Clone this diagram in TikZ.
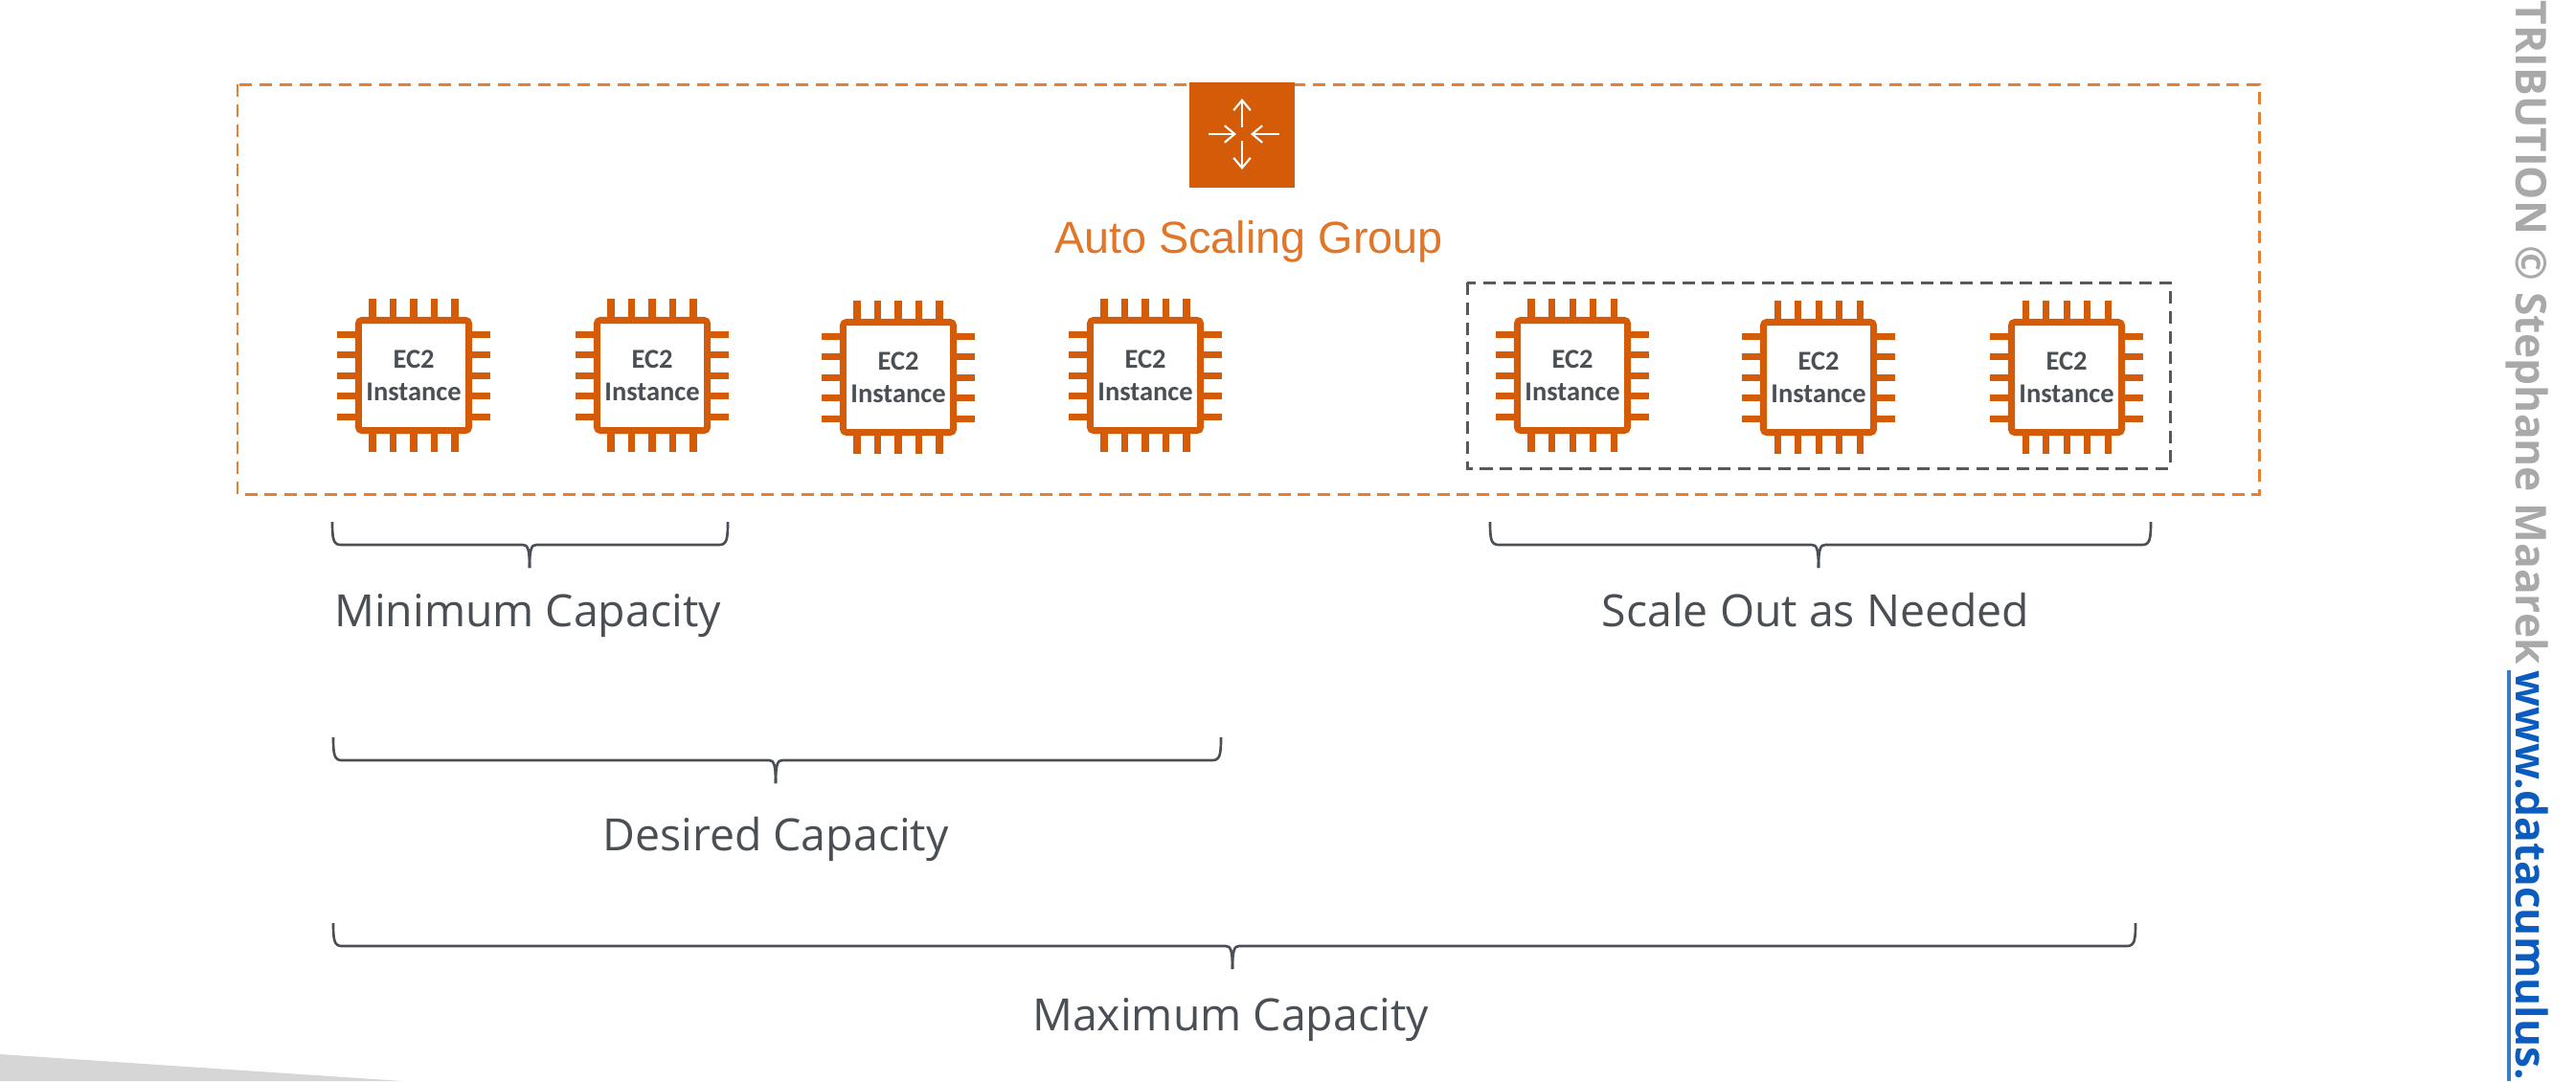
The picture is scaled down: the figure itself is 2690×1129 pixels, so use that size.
\documentclass[tikz,border=0pt]{standalone}
\usepackage{fontspec}
\setmainfont{Open Sans}
\newfontfamily\chipfont{Carlito}
\newfontfamily\groupfont{Liberation Sans}
\usetikzlibrary{positioning,arrows.meta}
\definecolor{awsorange}{HTML}{D45B07}
\definecolor{dashorange}{HTML}{E67E33}
\definecolor{textgray}{HTML}{4A4F55}
\definecolor{sidegray}{HTML}{A9A9A9}
\definecolor{linkblue}{HTML}{0B5CBE}
\tikzset{
  chip/.style={draw=awsorange,line width=2pt,rounded corners=1pt,minimum size=1.15cm,inner sep=0pt,
    align=center,text=textgray,font=\chipfont\bfseries\fontsize{8.1}{9.7}\selectfont},
  pin/.style={draw=awsorange,line width=2pt},
  caplabel/.style={text=textgray,font=\fontsize{13.2}{16}\selectfont,inner sep=0pt,anchor=base},
  capbrace/.style={draw=textgray,line width=0.75pt},
  sidetext/.style={rotate=-90,anchor=base west,inner sep=0pt,font=\bfseries\fontsize{12.6}{16}\selectfont}
}
% bracket: left end, right end, tip x, height of the bar
\newcommand{\capbracket}[4]{
  \draw[capbrace] (#1,#4-24) .. controls (#1,#4-6) and (#1+1,#4) .. (#1+9,#4)
    -- (#3-7,#4) .. controls (#3-2,#4) and (#3,#4+4) .. (#3,#4+24);
  \draw[capbrace] (#2,#4-24) .. controls (#2,#4-6) and (#2-1,#4) .. (#2-9,#4)
    -- (#3+7,#4) .. controls (#3+2,#4) and (#3,#4+4) .. (#3,#4+24);
}
\begin{document}
\begin{tikzpicture}[x=0.01cm,y=-0.01cm]
  \useasboundingbox (0,0) rectangle (2690,1129);

  % grey wedge, bottom left
  \fill[black!16] (0,1101) -- (420,1129) -- (0,1129) -- cycle;

  % auto scaling group
  \draw[dashorange,line width=0.85pt,dash pattern=on 3.7pt off 2.2pt] (248,88) rectangle (2359,516);
  \node[fill=awsorange,minimum size=1.1cm,inner sep=0pt] (asg) at (1297,141) {};
  \draw[white,line width=0.6pt,-{Straight Barb[length=3pt,width=5pt]}] (1297,133) -- (1297,103);
  \draw[white,line width=0.6pt,-{Straight Barb[length=3pt,width=5pt]}] (1297,147) -- (1297,177);
  \draw[white,line width=0.6pt,-{Straight Barb[length=3pt,width=5pt]}] (1262,140) -- (1291,140);
  \draw[white,line width=0.6pt,-{Straight Barb[length=3pt,width=5pt]}] (1336,140) -- (1306,140);
  \node[text=dashorange!75!awsorange,font=\groupfont\fontsize{13.3}{16}\selectfont,inner sep=0pt,anchor=base] (asglabel) at (1304,264) {Auto Scaling Group};

  % scale out box
  \draw[black!65,line width=0.85pt,dash pattern=on 3.7pt off 2.2pt] (1532,295) rectangle (2266,489);

  % instances
  \foreach \cx/\cy/\nm in {432/392/a,681/392/b,938/394/c,1196/392/d,1642/392/e,1899/394/f,2158/394/g}{
    \foreach \off in {-43,-21.5,0,21.5,43}{
      \draw[pin] (\cx+\off,\cy-80) -- (\cx+\off,\cy+80);
      \draw[pin] (\cx-80,\cy+\off) -- (\cx+80,\cy+\off);
    }
    \node[chip,fill=white] (chip\nm) at (\cx,\cy) {EC2\\Instance};
  }

  % brackets and their labels
  \capbracket{347}{760}{553}{569}
  \node[caplabel] (mincap) at (551,654) {Minimum Capacity};
  \capbracket{1556}{2246}{1899}{569}
  \node[caplabel] (scaleout) at (1896,654) {Scale Out as Needed};
  \capbracket{348}{1275}{810}{794}
  \node[caplabel] (descap) at (810,888) {Desired Capacity};
  \capbracket{348}{2230}{1287}{988}
  \node[caplabel] (maxcap) at (1285,1076) {Maximum Capacity};

  % side text
  \node[sidetext,text=sidegray] (sidecredit) at (2627,0) {TRIBUTION © Stephane Maarek};
  \node[sidetext,text=linkblue] (sidelink) at (2627,700) {www.datacumulus.};
  \draw[linkblue!80,line width=0.9pt] (2620,700) -- (2620,1129);
\end{tikzpicture}
\end{document}
